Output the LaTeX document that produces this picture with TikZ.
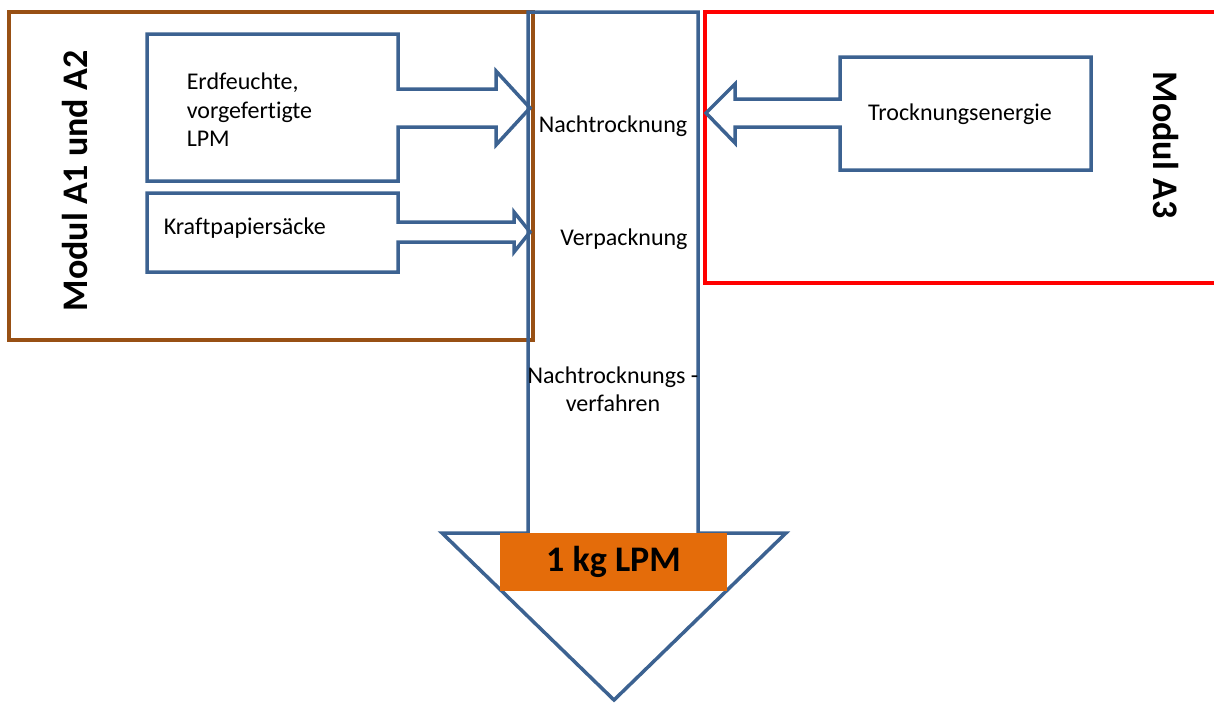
\documentclass[tikz,border=0pt]{standalone}
\usepackage{fontspec}
\setmainfont{Carlito}[Ligatures=NoCommon]
\definecolor{lpmblue}{RGB}{60,98,145}
\definecolor{modbrown}{RGB}{152,80,20}
\definecolor{lpmorange}{RGB}{228,108,10}

\begin{document}
\begin{tikzpicture}[x=1pt,y=-1pt,line width=3.5pt,
  every node/.style={inner sep=0pt,font=\fontsize{24}{28.5}\selectfont},
  modtext/.style={font=\bfseries\fontsize{36}{40}\selectfont}]
\useasboundingbox (0,0) rectangle (1214,702);
\clip (0,0) rectangle (1214,702);
% Module
\draw[modbrown] (9,12) rectangle (533,340);
\draw[red] (705,12) rectangle (1230,283);
% Hauptpfeil
\draw[lpmblue] (528,12) -- (698,12) -- (698,533) -- (786,533) -- (614,700)
  -- (442,533) -- (528,533) -- cycle;
% Eingaenge
\draw[lpmblue] (147,34) -- (398,34) -- (398,89) -- (496,89) -- (496,71) -- (530,108)
  -- (496,145) -- (496,127) -- (398,127) -- (398,181) -- (147,181) -- cycle;
\draw[lpmblue] (147,193) -- (398,193) -- (398,222) -- (514,222) -- (514,212) -- (530,232)
  -- (514,252) -- (514,242) -- (398,242) -- (398,272) -- (147,272) -- cycle;
\draw[lpmblue] (1091,57) -- (1091,170) -- (840,170) -- (840,127) -- (735,127) -- (735,143)
  -- (706,113) -- (735,84) -- (735,99) -- (840,99) -- (840,57) -- cycle;
\node[fill=lpmorange,minimum width=227,minimum height=58,
  font=\bfseries\fontsize{36}{40}\selectfont] (lpm) at (613.5,562) {1 kg LPM};
\node[anchor=west,align=left] (erd) at (185,110) {Erdfeuchte,\\vorgefertigte\\LPM};
\node[anchor=west] (kraft) at (162,228) {Kraftpapiersäcke};
\node (nach) at (613,126) {Nachtrocknung};
\node (verp) at (624,239) {Verpacknung};
\node[align=center] (verf) at (613,389) {Nachtrocknungs -\\verfahren};
\node (energie) at (960,114) {Trocknungsenergie};
\node[modtext,rotate=90] (a12) at (75,181) {Modul A1 und A2};
\node[modtext,rotate=-90] (a3) at (1166,145) {Modul A3};
\end{tikzpicture}
\end{document}
